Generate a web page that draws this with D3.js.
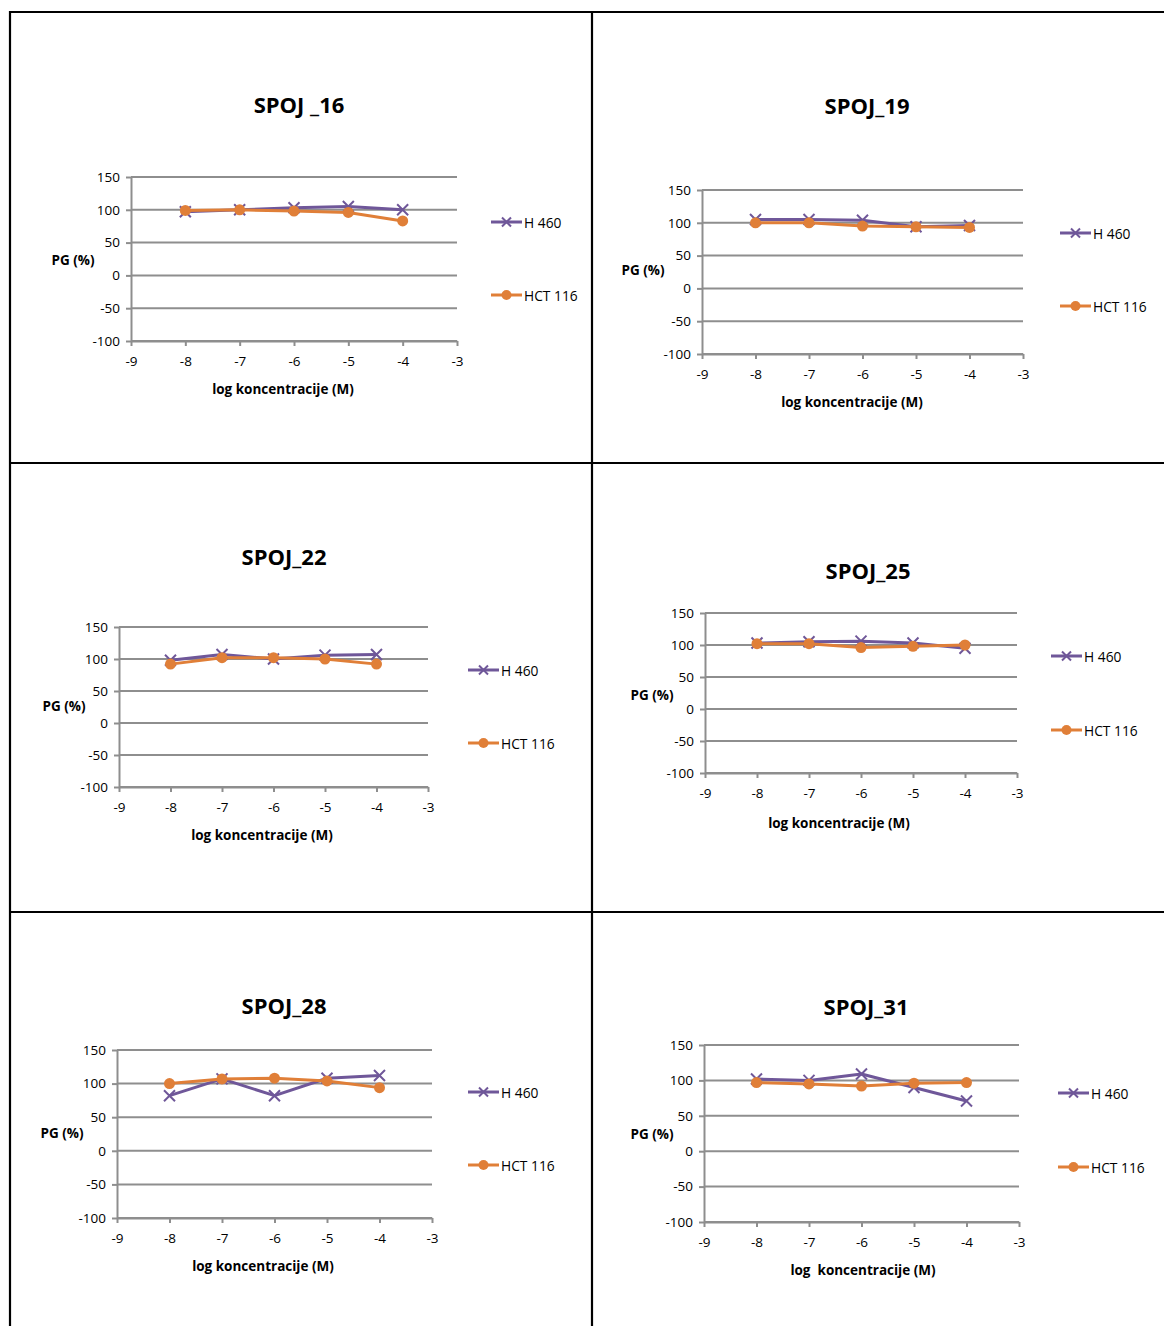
<!DOCTYPE html>
<html><head><meta charset="utf-8">
<script src="https://cdn.jsdelivr.net/npm/d3@7/dist/d3.min.js"></script>
<style>
body{margin:0;background:#fff;}
svg{display:block;font-family:"Open Sans",Lato,"Liberation Sans",sans-serif;}
</style></head><body>
<svg id="c" width="1164" height="1326"></svg>
<script>
// ---- data ----
const concentrations = [-8, -7, -6, -5, -4];
const xTickValues = [-9, -8, -7, -6, -5, -4, -3];
const yTickValues = [-100, -50, 0, 50, 100, 150];
const seriesNames = ["H 460", "HCT 116"];
const chartTitles = ["SPOJ _16", "SPOJ_19", "SPOJ_22", "SPOJ_25", "SPOJ_28", "SPOJ_31"];
const xAxisTitles = ["log koncentracije (M)", "log koncentracije (M)", "log koncentracije (M)", "log koncentracije (M)", "log koncentracije (M)", "log  koncentracije (M)"];
const yAxisTitle = "PG (%)";

const h460_16 = [97, 100, 103, 105, 100];
const hct116_16 = [99, 100, 98, 96, 83];
const h460_19 = [105, 105, 104, 94, 96];
const hct116_19 = [100, 100, 95, 94, 93];
const h460_22 = [98, 107, 100, 106, 107];
const hct116_22 = [92, 102, 102, 100, 92];
const h460_25 = [103, 105, 106, 103, 95];
const hct116_25 = [102, 102, 96, 98, 100];
const h460_28 = [82, 107, 82, 108, 112];
const hct116_28 = [100, 107, 108, 104, 94];
const h460_31 = [102, 100, 109, 90, 71];
const hct116_31 = [97, 95, 92, 96, 97];

const h460All = [h460_16, h460_19, h460_22, h460_25, h460_28, h460_31];
const hctAll = [hct116_16, hct116_19, hct116_22, hct116_25, hct116_28, hct116_31];

// ---- layout ----
const layouts = [
  {l:131,r:457,t:177,b:341, tx:299,ty:104, ax:283,ay:389, px:73,py:260, lgx:491,lg1:222,lg2:295},
  {l:702,r:1023,t:190,b:354, tx:867,ty:105, ax:852,ay:402, px:643,py:270, lgx:1060,lg1:233,lg2:306},
  {l:119,r:428,t:627,b:787, tx:284,ty:556, ax:262,ay:835, px:64,py:706, lgx:468,lg1:670,lg2:743},
  {l:705,r:1017,t:613,b:773, tx:868,ty:570, ax:839,ay:823, px:652,py:695, lgx:1051,lg1:656,lg2:730},
  {l:117,r:432,t:1050,b:1218, tx:284,ty:1005, ax:263,ay:1266, px:62,py:1133, lgx:468,lg1:1092,lg2:1165},
  {l:704,r:1019,t:1045,b:1222, tx:866,ty:1006, ax:863,ay:1270, px:652,py:1134, lgx:1058,lg1:1093,lg2:1167}
];
const purple = "#6F5799", orange = "#E07F38", grid = "#8E8E8E";
const fmt = d => String(d);

const svg = d3.select("#c");

// table borders
const border = svg.append("g").attr("stroke","#000").attr("stroke-width",2.2);
border.append("line").attr("x1",10).attr("x2",1164).attr("y1",12).attr("y2",12);
border.append("line").attr("x1",10).attr("x2",10).attr("y1",11).attr("y2",1326);
border.append("line").attr("x1",592).attr("x2",592).attr("y1",11).attr("y2",1326);
border.append("line").attr("x1",10).attr("x2",1164).attr("y1",463).attr("y2",463);
border.append("line").attr("x1",10).attr("x2",1164).attr("y1",912).attr("y2",912);

function xMarker(g, x, y, s, color){
  g.append("path").attr("d",`M${x-s},${y-s}L${x+s},${y+s}M${x-s},${y+s}L${x+s},${y-s}`)
    .attr("stroke",color).attr("stroke-width",2).attr("fill","none");
}

layouts.forEach((L, i) => {
  const g = svg.append("g");
  const x = d3.scaleLinear().domain([-9,-3]).range([L.l, L.r]);
  const y = d3.scaleLinear().domain([-100,150]).range([L.b, L.t]);

  // gridlines
  g.append("g").selectAll("line").data(yTickValues).join("line")
    .attr("x1", L.l).attr("x2", L.r).attr("y1", d=>y(d)).attr("y2", d=>y(d))
    .attr("stroke", grid).attr("stroke-width", 2);

  // y axis
  const ya = g.append("g").attr("transform",`translate(${L.l},0)`)
    .call(d3.axisLeft(y).tickValues(yTickValues).tickFormat(fmt).tickSize(5).tickSizeOuter(0).tickPadding(6));
  ya.select(".domain").attr("stroke", grid).attr("stroke-width", 2);
  ya.selectAll(".tick line").attr("stroke", grid).attr("stroke-width", 2);
  ya.selectAll("text").attr("font-size", 13.5).attr("fill","#000").attr("font-family","'Open Sans',sans-serif");

  // x axis
  const xa = g.append("g").attr("transform",`translate(0,${L.b})`)
    .call(d3.axisBottom(x).tickValues(xTickValues).tickFormat(fmt).tickSize(5).tickSizeOuter(0).tickPadding(10));
  xa.select(".domain").attr("stroke", grid).attr("stroke-width", 2);
  xa.selectAll(".tick line").attr("stroke", grid).attr("stroke-width", 2);
  xa.selectAll("text").attr("font-size", 13.5).attr("fill","#000").attr("font-family","'Open Sans',sans-serif");

  // titles
  g.append("text").attr("x", L.tx).attr("y", L.ty).attr("text-anchor","middle").attr("dominant-baseline","central")
    .attr("font-size", 22).attr("font-weight","bold").text(chartTitles[i]);
  g.append("text").attr("x", L.ax).attr("y", L.ay).attr("text-anchor","middle").attr("dominant-baseline","central")
    .attr("font-size", 13.5).attr("font-weight","bold").attr("xml:space","preserve").text(xAxisTitles[i]);
  g.append("text").attr("x", L.px).attr("y", L.py).attr("text-anchor","middle").attr("dominant-baseline","central")
    .attr("font-size", 13.5).attr("font-weight","bold").text(yAxisTitle);

  const line = d3.line().x((d,j)=>x(concentrations[j])).y(d=>y(d));
  const hv = h460All[i], cv = hctAll[i];

  // H 460 series
  g.append("path").datum(hv).attr("d", line).attr("fill","none").attr("stroke",purple).attr("stroke-width",3).attr("stroke-linejoin","round");
  hv.forEach((v,j)=> xMarker(g, x(concentrations[j]), y(v), 5.5, purple));
  // HCT 116 series
  g.append("path").datum(cv).attr("d", line).attr("fill","none").attr("stroke",orange).attr("stroke-width",3).attr("stroke-linejoin","round");
  g.append("g").selectAll("circle").data(cv).join("circle")
    .attr("cx",(d,j)=>x(concentrations[j])).attr("cy",d=>y(d)).attr("r",5.5).attr("fill",orange);

  // legend
  const lg = g.append("g");
  lg.append("line").attr("x1",L.lgx).attr("x2",L.lgx+31).attr("y1",L.lg1).attr("y2",L.lg1).attr("stroke",purple).attr("stroke-width",3);
  xMarker(lg, L.lgx+15.5, L.lg1, 4.5, purple);
  lg.append("text").attr("x",L.lgx+33).attr("y",L.lg1).attr("dominant-baseline","central").attr("font-size",13.8).text(seriesNames[0]);
  lg.append("line").attr("x1",L.lgx).attr("x2",L.lgx+31).attr("y1",L.lg2).attr("y2",L.lg2).attr("stroke",orange).attr("stroke-width",3);
  lg.append("circle").attr("cx",L.lgx+15.5).attr("cy",L.lg2).attr("r",5).attr("fill",orange);
  lg.append("text").attr("x",L.lgx+33).attr("y",L.lg2).attr("dominant-baseline","central").attr("font-size",13.8).text(seriesNames[1]);
});
</script>
</body></html>
